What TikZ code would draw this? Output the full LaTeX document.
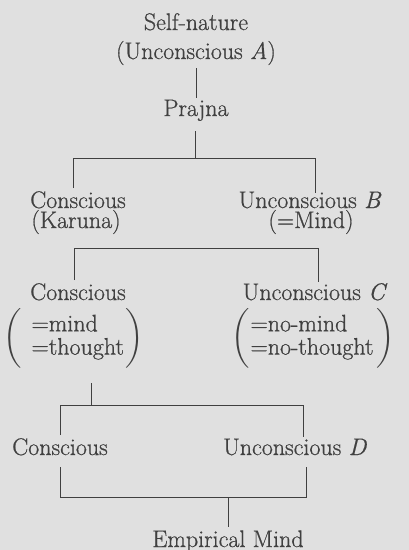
\documentclass[tikz,border=0pt]{standalone}
\usepackage{exscale}
\usepackage{fontspec}
\setmainfont{Latin Modern Roman}[FakeBold=0.7, ItalicFeatures={FakeBold=0.7}]
\definecolor{bg}{HTML}{E0E0E0}
\definecolor{ink}{HTML}{404040}
\newcommand{\parstrut}{\vphantom{\rule[-22pt]{0pt}{50pt}}}
\begin{document}
\begin{tikzpicture}[x=1pt,y=-1pt,
  txt/.style={font=\fontsize{24}{29}\selectfont, text=ink, inner sep=0pt, anchor=base},
  grp/.style={font=\fontsize{24}{22}\selectfont, text=ink, inner sep=0pt, anchor=west},
  ln/.style={draw=ink, line width=0.8pt}]
\fill[bg] (0,0) rectangle (409,550);
\useasboundingbox (0,0) rectangle (409,550);
% nodes
\node[txt] (sn) at (196,30) {Self-nature};
\node[txt] (ua) at (196,59) {(Unconscious \textit{A})};
\node[txt] (pr) at (196,116) {Prajna};
\node[txt] (c2) at (78,208) {Conscious};
\node[txt] (k2) at (76,228) {(Karuna)};
\node[txt] (u2) at (310,208) {Unconscious \textit{B}};
\node[txt] (m2) at (311,228) {(=Mind)};
\node[txt] (c3) at (78,300) {Conscious};
\node[grp] (g3l) at (3,338) {$\left(\parstrut\hspace{10pt}\begin{tabular}{@{}l@{}}=mind\\=thought\end{tabular}\hspace{2pt}\right)$};
\node[txt] (u3) at (315,300) {Unconscious \textit{C}};
\node[grp] (g3r) at (231,338) {$\left(\parstrut\hspace{1pt}\begin{tabular}{@{}l@{}}=no-mind\\=no-thought\end{tabular}\hspace{3pt}\right)$};
\node[txt] (c4) at (60,455) {Conscious};
\node[txt] (u4) at (295,455) {Unconscious \textit{D}};
\node[txt] (em) at (228,547) {Empirical Mind};
% junction coordinates
\coordinate (j1) at (195,158);
\coordinate (j1l) at (73,158);
\coordinate (j1r) at (315,158);
\coordinate (e1l) at (73,188);
\coordinate (e1r) at (315,193);
\coordinate (j2l) at (74,248);
\coordinate (j2r) at (318,248);
\coordinate (e2l) at (74,280);
\coordinate (e2r) at (318,282);
\coordinate (s3) at (91,383);
\coordinate (j3) at (91,405);
\coordinate (j3l) at (60,405);
\coordinate (j3r) at (303,405);
\coordinate (e3l) at (60,435);
\coordinate (e3r) at (303,437);
\coordinate (s4l) at (60,467);
\coordinate (s4r) at (306,467);
\coordinate (j4l) at (60,497);
\coordinate (j4r) at (306,497);
\coordinate (j4) at (228,497);
\coordinate (e4) at (228,527);
% connectors
\draw[ln] (ua.south |- 0,68) -- (pr.north |- 0,98);
\draw[ln] (195,131) -- (j1);
\draw[ln] (e1l) -- (j1l) -- (j1r) -- (e1r);
\draw[ln] (e2l) -- (j2l) -- (j2r) -- (e2r);
\draw[ln] (s3) -- (j3);
\draw[ln] (e3l) -- (j3l) -- (j3r) -- (e3r);
\draw[ln] (s4l) -- (j4l) -- (j4r) -- (s4r);
\draw[ln] (j4) -- (e4);
\end{tikzpicture}
\end{document}
